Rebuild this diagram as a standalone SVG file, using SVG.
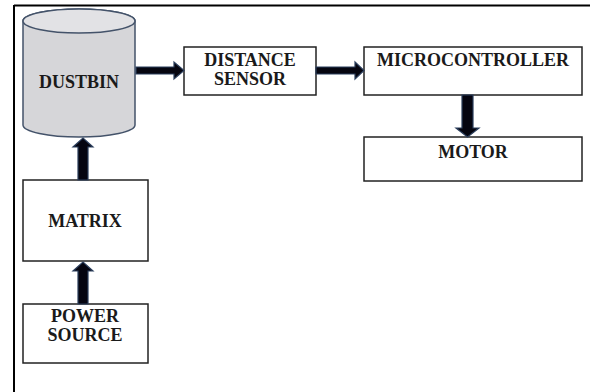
<svg xmlns="http://www.w3.org/2000/svg" width="592" height="392" viewBox="0 0 592 392">
<style>
.box{fill:#fff;stroke:#222;stroke-width:1.5}
.t{font-family:"Liberation Serif","Times New Roman",serif;font-weight:bold;font-size:18px;fill:#1a1a1a;text-anchor:middle}
.arr{fill:#050510;stroke:#2b3e5c;stroke-width:1.2}
</style>
<rect width="592" height="392" fill="#fff"/>
<g id="frame">
<line x1="14" y1="5.5" x2="590" y2="5.5" stroke="#000" stroke-width="2"/>
<line x1="14" y1="5" x2="14" y2="392" stroke="#000" stroke-width="2"/>
</g>
<g id="dustbin">
<path d="M23 21 L23 125 A56 12 0 0 0 135 125 L135 21 A56 12 0 0 0 23 21 Z" fill="#d6d6d9" stroke="#44536a" stroke-width="1.5"/>
<ellipse cx="79" cy="21" rx="56" ry="12" fill="#e2e2e5" stroke="#44536a" stroke-width="1.5"/>
<text class="t" x="79" y="88">DUSTBIN</text>
</g>
<g id="distance-sensor">
<rect class="box" x="184" y="47" width="132" height="48"/>
<text class="t" x="250" y="66">DISTANCE</text>
<text class="t" x="250" y="85">SENSOR</text>
</g>
<g id="microcontroller">
<rect class="box" x="364" y="47" width="218" height="48"/>
<text class="t" x="473" y="66">MICROCONTROLLER</text>
</g>
<g id="motor">
<rect class="box" x="364" y="137" width="218" height="44"/>
<text class="t" x="473" y="158">MOTOR</text>
</g>
<g id="matrix">
<rect class="box" x="23" y="180" width="125" height="81"/>
<text class="t" x="85" y="227">MATRIX</text>
</g>
<g id="power-source">
<rect class="box" x="23" y="304" width="125" height="59"/>
<text class="t" x="85" y="322">POWER</text>
<text class="t" x="85" y="341">SOURCE</text>
</g>
<g id="connectors">
<polygon class="arr" points="136,67 174,67 174,62 184,70.5 174,79 174,74 136,74"/>
<polygon class="arr" points="316,67 355,67 355,62 364,70.5 355,79 355,74 316,74"/>
<polygon class="arr" points="462,95 473,95 473,128 479,128 467.5,137 456,128 462,128"/>
<polygon class="arr" points="78,180 78,147 73,147 83,138 93,147 88,147 88,180"/>
<polygon class="arr" points="78,304 78,271 73,271 83,262 93,271 88,271 88,304"/>
</g>
</svg>
